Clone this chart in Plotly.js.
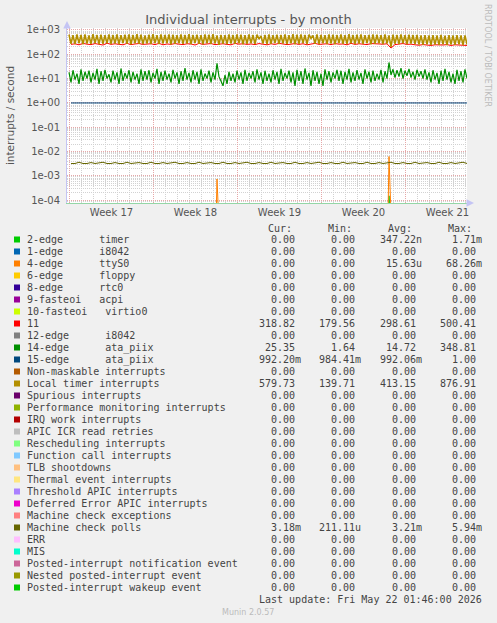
<!DOCTYPE html>
<html><head><meta charset="utf-8">
<script src="https://cdn.plot.ly/plotly-3.0.1.min.js"></script>
<style>html,body{margin:0;padding:0;background:#F0F0F0;}#chart{width:497px;height:623px;}</style>
</head><body><div id="chart"></div>
<script>
// ---------------- data ----------------
const startTime = Date.UTC(2026, 3, 19, 19, 0, 0);
const rangeStart = '2026-04-19 19:00';
const rangeEnd = '2026-05-23 03:00';
const weekTick0 = '2026-04-20';

const yTickVals = [1e-4, 1e-3, 1e-2, 1e-1, 1, 10, 100, 1000];
const yTickText = ['1e-04', '1e-03', '1e-02', '1e-01', '1e+00', '1e+01', '1e+02', '1e+03'];

// 4-hour samples (200)
const localTimer = [
640,270,610,260,660,280,620,255,650,275,600,265,670,285,630,260,645,270,615,280,
655,265,625,275,660,260,610,285,640,270,650,255,620,280,665,270,635,260,600,275,
645,265,670,280,615,260,650,275,625,285,660,255,640,270,605,280,655,265,630,275,
665,260,620,285,645,270,610,255,650,280,635,265,670,275,600,245,630,270,615,260,
650,275,625,265,660,280,640,255,615,270,655,285,620,265,640,420,560,275,630,260,
660,270,615,285,645,260,625,275,650,265,610,280,670,255,635,270,655,285,620,260,
640,450,600,270,655,265,630,280,615,260,660,275,645,255,625,285,650,270,605,265,
665,280,620,260,640,275,655,265,610,285,630,255,660,270,645,280,615,265,650,275,
600,200,640,270,625,260,655,280,615,265,645,275,630,260,620,250,600,245,610,255,
590,240,615,250,600,245,620,255,585,240,610,250,595,245,605,255,590,240,600,250];

const ataPiix14 = [
18,7,22,9,16,6,24,8,19,10,21,7,17,9,25,6,20,8,23,10,
15,7,21,9,18,6,26,8,17,10,22,7,19,9,16,6,24,8,20,9,
22,7,17,10,25,6,19,8,21,9,16,7,23,10,18,6,20,8,27,9,
17,7,22,9,19,6,24,8,16,10,21,7,18,9,42,12,8,5,14,6,
19,8,16,7,21,9,18,6,23,8,17,10,20,7,24,9,18,6,21,8,
16,7,22,9,19,6,25,8,17,10,21,7,18,5,23,8,20,6,26,9,
17,5,22,8,19,6,16,5,24,9,20,7,18,10,23,8,21,6,19,9,
25,7,18,8,22,9,17,6,24,10,19,7,21,8,16,9,23,7,20,10,
46,14,24,11,22,12,27,10,21,13,25,11,19,9,23,12,20,10,24,9,
18,7,22,9,17,6,21,8,25,9,19,7,16,6,23,8,20,7,24,10];

const ttyS0 = [
0,0,0,0,0,0,0,0,0,0,0,0,0,0,0,0,0,0,0,0,
0,0,0,0,0,0,0,0,0,0,0,0,0,0,0,0,0,0,0,0,
0,0,0,0,0,0,0,0,0,0,0,0,0,0,0,0,0,0,0,0,
0,0,0,0,0,0,0,0,0,0,0,0,0,0,0.00074,0,0,0,0,0,
0,0,0,0,0,0,0,0,0,0,0,0,0,0,0,0,0,0,0,0,
0,0,0,0,0,0,0,0,0,0,0,0,0,0,0,0,0,0,0,0,
0,0,0,0,0,0,0,0,0,0,0,0,0,0,0,0,0,0,0,0,
0,0,0,0,0,0,0,0,0,0,0,0,0,0,0,0,0,0,0,0,
0.0062,0,0,0,0,0,0,0,0,0,0,0,0,0,0,0,0,0,0,0,
0,0,0,0,0,0,0,0,0,0,0,0,0,0,0,0,0,0,0,0];

const timer2 = [
0,0,0,0,0,0,0,0,0,0,0,0,0,0,0,0,0,0,0,0,
0,0,0,0,0,0,0,0,0,0,0,0,0,0,0,0,0,0,0,0,
0,0,0,0,0,0,0,0,0,0,0,0,0,0,0,0,0,0,0,0,
0,0,0,0,0,0,0,0,0,0,0,0,0,0,0,0,0,0,0,0,
0,0,0,0,0,0,0,0,0,0,0,0,0,0,0,0,0,0,0,0,
0,0,0,0,0,0,0,0,0,0,0,0,0,0,0,0,0,0,0,0,
0,0,0,0,0,0,0,0,0,0,0,0,0,0,0,0,0,0,0,0,
0,0,0,0,0,0,0,0,0,0,0,0,0,0,0,0,0,0,0,0,
0.00015,0,0,0,0,0,0,0,0,0,0,0,0,0,0,0,0,0,0,0,
0,0,0,0,0,0,0,0,0,0,0,0,0,0,0,0,0,0,0,0];

// 8-hour samples (100)
const irq11 = [
255,270,245,280,260,250,275,265,240,285,255,270,260,245,280,250,265,275,255,260,
270,250,280,245,265,255,275,260,250,270,265,240,280,255,260,275,250,265,270,255,
245,280,260,270,255,265,250,275,260,245,270,255,280,265,250,260,275,255,270,245,
265,280,255,260,270,250,275,260,265,245,280,255,270,260,250,275,265,255,260,270,
180,250,265,275,255,260,245,235,250,240,230,245,235,240,250,230,245,235,240,230];

const ataPiix15 = [
0.992,0.991,0.993,0.992,0.990,0.992,0.994,0.992,0.991,0.993,0.992,0.990,0.992,0.993,0.991,0.992,0.994,0.992,0.990,0.992,
0.993,0.991,0.992,0.992,0.990,0.993,0.992,0.991,0.994,0.992,0.992,0.990,0.993,0.992,0.991,0.992,0.993,0.990,0.992,0.994,
0.992,0.991,0.993,0.992,0.990,0.992,0.994,0.992,0.991,0.993,0.992,0.990,0.992,0.993,0.991,0.992,0.994,0.992,0.990,0.992,
0.993,0.991,0.992,0.992,0.990,0.993,0.992,0.991,0.994,0.992,0.992,0.990,0.993,0.992,0.991,0.992,0.993,0.990,0.992,0.994,
0.998,0.991,0.993,0.992,0.990,0.992,0.994,0.992,0.991,0.993,0.992,0.990,0.992,0.993,0.991,0.992,0.994,0.992,0.990,0.992];

const mcPolls = [
0.0032,0.0032,0.0036,0.0032,0.0032,0.0035,0.0032,0.0033,0.0036,0.0032,0.0032,0.0035,0.0032,0.0032,0.0036,0.0032,0.0033,0.0035,0.0032,0.0032,
0.0036,0.0032,0.0032,0.0035,0.0032,0.0033,0.0036,0.0032,0.0032,0.0035,0.0032,0.0032,0.0036,0.0032,0.0033,0.0035,0.0032,0.0032,0.0036,0.0032,
0.0032,0.0035,0.0032,0.0033,0.0036,0.0032,0.0032,0.0035,0.0032,0.0032,0.0036,0.0032,0.0033,0.0035,0.0032,0.0032,0.0036,0.0032,0.0032,0.0035,
0.0032,0.0033,0.0036,0.0032,0.0032,0.0035,0.0032,0.0032,0.0036,0.0032,0.0033,0.0035,0.0032,0.0032,0.0036,0.0032,0.0032,0.0035,0.0032,0.0033,
0.0036,0.0032,0.0032,0.0035,0.0032,0.0032,0.0036,0.0032,0.0033,0.0035,0.0032,0.0032,0.0036,0.0032,0.0032,0.0035,0.0032,0.0033,0.0036,0.0032];

// legend table
const legendLabels = ['2-edge      timer','1-edge      i8042','4-edge      ttyS0','6-edge      floppy','8-edge      rtc0','9-fasteoi   acpi','10-fasteoi   virtio0','11','12-edge      i8042','14-edge      ata_piix','15-edge      ata_piix','Non-maskable interrupts','Local timer interrupts','Spurious interrupts','Performance monitoring interrupts','IRQ work interrupts','APIC ICR read retries','Rescheduling interrupts','Function call interrupts','TLB shootdowns','Thermal event interrupts','Threshold APIC interrupts','Deferred Error APIC interrupts','Machine check exceptions','Machine check polls','ERR','MIS','Posted-interrupt notification event','Nested posted-interrupt event','Posted-interrupt wakeup event'];
const legendColors = ['#00CC00','#0066B3','#FF8000','#FFCC00','#330099','#990099','#CCFF00','#FF0000','#808080','#008F00','#00487D','#B35A00','#B38F00','#6B006B','#8FB300','#B30000','#BEBEBE','#80FF80','#80C9FF','#FFC080','#FFE680','#AA80FF','#EE00CC','#FF8080','#666600','#FFBFFF','#00FFCC','#CC6699','#999900','#00CC00'];
const curVals = ['0.00','0.00','0.00','0.00','0.00','0.00','0.00','318.82','0.00','25.35','992.20m','0.00','579.73','0.00','0.00','0.00','0.00','0.00','0.00','0.00','0.00','0.00','0.00','0.00','3.18m','0.00','0.00','0.00','0.00','0.00'];
const minVals = ['0.00','0.00','0.00','0.00','0.00','0.00','0.00','179.56','0.00','1.64','984.41m','0.00','139.71','0.00','0.00','0.00','0.00','0.00','0.00','0.00','0.00','0.00','0.00','0.00','211.11u','0.00','0.00','0.00','0.00','0.00'];
const avgVals = ['347.22n','0.00','15.63u','0.00','0.00','0.00','0.00','298.61','0.00','14.72','992.06m','0.00','413.15','0.00','0.00','0.00','0.00','0.00','0.00','0.00','0.00','0.00','0.00','0.00','3.21m','0.00','0.00','0.00','0.00','0.00'];
const maxVals = ['1.71m','0.00','68.26m','0.00','0.00','0.00','0.00','500.41','0.00','348.81','1.00','0.00','876.91','0.00','0.00','0.00','0.00','0.00','0.00','0.00','0.00','0.00','0.00','0.00','5.94m','0.00','0.00','0.00','0.00','0.00'];
const colHeaders = ['Cur:','Min:','Avg:','Max:'];
const lastUpdate = 'Last update: Fri May 22 01:46:00 2026';

// ---------------- drawing ----------------
const H4 = 4 * 3600 * 1000, H8 = 8 * 3600 * 1000;
const times = (n, step) => Array.from({length: n}, (_, i) => startTime + (i + 1) * step);
const LOG_FLOOR = 1e-7; // zero drawn below the log range, like rrdtool
const floorZero = arr => arr.map(v => v > 0 ? v : LOG_FLOOR);

function line(x, y, color, w) {
  return {type: 'scatter', mode: 'lines', x: x, y: y, line: {color: color, width: w || 1}, hoverinfo: 'skip', showlegend: false, cliponaxis: true};
}
const traces = [
  line(times(200, H4), floorZero(timer2), legendColors[0]),
  line(times(200, H4), floorZero(ttyS0), legendColors[2]),
  line(times(100, H8), irq11, legendColors[7]),
  line(times(200, H4), ataPiix14, legendColors[9], 1.2),
  line(times(100, H8), ataPiix15, legendColors[10]),
  line(times(200, H4), localTimer, legendColors[12], 1.6),
  line(times(100, H8), mcPolls, legendColors[24])
];

const L = 67, R = 467, T = 28, B = 203;
const PX = px => (px - L) / (R - L);
const PY = py => (B - py) / (B - T);
const mono = {family: 'DejaVu Sans Mono', size: 10, color: '#444'};
const nb = s => s.replace(/ /g, '\u00a0');

const annotations = [];
const shapes = [];
const rowY0 = 239.5, rowStep = 12;
legendLabels.forEach((lab, r) => {
  const y = PY(rowY0 + r * rowStep);
  shapes.push({type: 'rect', xref: 'paper', yref: 'paper', x0: PX(14), x1: PX(20), y0: PY(rowY0 + r * rowStep + 3), y1: PY(rowY0 + r * rowStep - 3), fillcolor: legendColors[r], line: {width: 0}});
  annotations.push({xref: 'paper', yref: 'paper', x: PX(26), y: y, xanchor: 'left', yanchor: 'middle', text: nb(lab), showarrow: false, font: mono, borderpad: 0});
  [curVals, minVals, avgVals, maxVals].forEach((col, c) => {
    let v = col[r];
    if (!/[a-z]$/i.test(v)) v = v + ' ';
    annotations.push({xref: 'paper', yref: 'paper', x: PX(302 + 60.3 * c), y: y, xanchor: 'right', yanchor: 'middle', text: nb(v), showarrow: false, font: mono, borderpad: 0});
  });
});
colHeaders.forEach((h, c) => {
  annotations.push({xref: 'paper', yref: 'paper', x: PX(266.5 + 60.3 * c), y: PY(228.3), xanchor: 'left', yanchor: 'middle', text: h, showarrow: false, font: mono, borderpad: 0});
});
annotations.push({xref: 'paper', yref: 'paper', x: PX(482.5), y: PY(599.3), xanchor: 'right', yanchor: 'middle', text: nb(lastUpdate), showarrow: false, font: mono, borderpad: 0});
annotations.push({xref: 'paper', yref: 'paper', x: PX(248), y: PY(612), xanchor: 'center', yanchor: 'middle', text: 'Munin 2.0.57', showarrow: false, font: {family: 'DejaVu Sans', size: 8, color: '#bbb'}, borderpad: 0});
annotations.push({xref: 'paper', yref: 'paper', x: PX(487), y: PY(55), xanchor: 'center', yanchor: 'middle', text: 'RRDTOOL / TOBI OETIKER', textangle: 90, showarrow: false, font: {family: 'DejaVu Sans', size: 8, color: '#bbb'}, borderpad: 0});
// axis arrows
annotations.push({xref: 'paper', yref: 'paper', x: 0, y: PY(21), ax: 0, ay: 8, text: '', showarrow: true, arrowhead: 2, arrowsize: 1, arrowwidth: 1.5, arrowcolor: '#c4c4f4'});
annotations.push({xref: 'paper', yref: 'paper', x: PX(474), y: 0, ax: -8, ay: 0, text: '', showarrow: true, arrowhead: 2, arrowsize: 1, arrowwidth: 1.5, arrowcolor: '#c4c4f4'});

const majorGrid = '#e6a8a8', minorGrid = '#d2d2d2', dots = '1px,1px';
const layout = {
  width: 497, height: 623,
  margin: {l: L, r: 497 - R, t: T, b: 623 - B, pad: 0},
  paper_bgcolor: '#F0F0F0', plot_bgcolor: '#FFFFFF',
  showlegend: false,
  title: {text: 'Individual interrupts - by month', x: 0.5, xref: 'container', xanchor: 'center', y: 1 - 19 / 623, yref: 'container', yanchor: 'middle', font: {family: 'DejaVu Sans', size: 13, color: '#555'}},
  font: {family: 'DejaVu Sans', size: 10, color: '#555'},
  xaxis: {
    type: 'date', range: [rangeStart, rangeEnd],
    tick0: weekTick0, dtick: 7 * 86400000, tickformat: 'Week %V', ticklabelmode: 'period',
    showgrid: true, gridcolor: majorGrid, griddash: dots, gridwidth: 1,
    ticks: '', showline: true, linecolor: '#94d6a6', linewidth: 1, zeroline: false,
    tickfont: {family: 'DejaVu Sans', size: 10, color: '#555'},
    minor: {tick0: weekTick0, dtick: 86400000, showgrid: true, gridcolor: minorGrid, griddash: dots, ticks: ''},
    fixedrange: true
  },
  yaxis: {
    type: 'log', range: [-4.12, 3.08],
    tickmode: 'array', tickvals: yTickVals, ticktext: yTickText,
    showgrid: true, gridcolor: majorGrid, griddash: dots, gridwidth: 1,
    ticks: '', showline: true, linecolor: '#c4c4f4', linewidth: 1, zeroline: false,
    ticklabelstandoff: 4,
    tickfont: {family: 'DejaVu Sans', size: 10, color: '#555'},
    title: {text: 'interrupts / second', font: {family: 'DejaVu Sans', size: 10.5, color: '#555'}, standoff: 9},
    minor: {dtick: 'D1', showgrid: true, gridcolor: minorGrid, griddash: dots, ticks: ''},
    fixedrange: true
  },
  annotations: annotations,
  shapes: shapes
};
Plotly.newPlot('chart', traces, layout, {displayModeBar: false, staticPlot: true});
</script>
</body></html>
